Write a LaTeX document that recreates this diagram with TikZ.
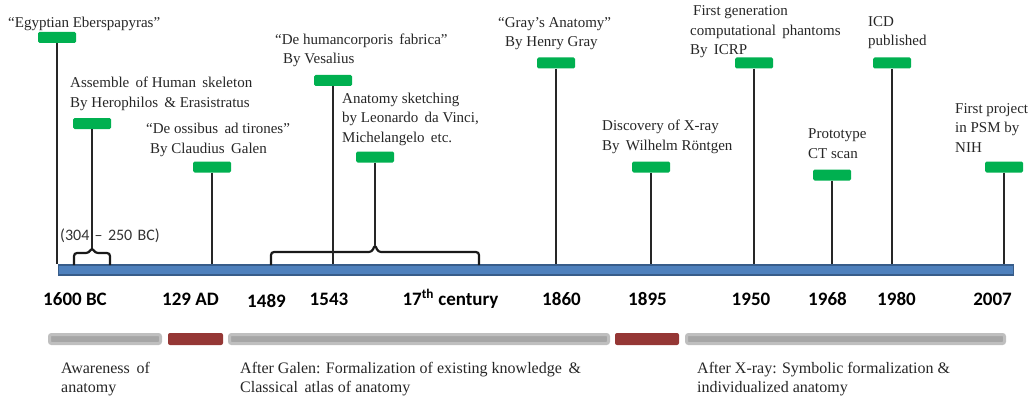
\documentclass[tikz,border=0pt]{standalone}
\usepackage{fontspec}
\setmainfont{Liberation Serif}
\newfontfamily\calib{Carlito}

\definecolor{tagreen}{HTML}{00B050}
\definecolor{barblue}{HTML}{4F81BD}
\definecolor{barrim}{HTML}{385D8A}
\definecolor{eragray}{HTML}{BFBFBF}
\definecolor{eracore}{HTML}{A6A6A6}
\definecolor{shiftred}{HTML}{953735}

\begin{document}
\begin{tikzpicture}[
      x=1pt,
      y=-1pt,
      every node/.style={inner sep=0pt},
      tag/.style={fill=tagreen, rounded corners=1.5pt, minimum width=38pt, minimum height=11pt},
      stem/.style={line width=1.6pt, black!85},
      brace/.style={line width=2.2pt, rounded corners=3pt, black!90},
      evt/.style={anchor=base west, align=left, font=\fontsize{15}{19.5}\selectfont, text=black!85},
      yr/.style={anchor=base, font=\calib\bfseries\fontsize{19}{22}\selectfont},
      era/.style={anchor=base west, align=left, font=\fontsize{16}{19}\selectfont, text=black!85},
      eraband/.style={fill=eracore, draw=eragray, line width=3pt, rounded corners=2pt},
      shiftband/.style={fill=shiftred, rounded corners=2pt}
    ]
    \useasboundingbox (0,0) rectangle (1031,396);

    % --- 1. axis ---
    \def\yBar{264}
    \node[fill=barblue, draw=barrim, line width=1.5pt, minimum width=955pt, minimum height=10pt,
          anchor=north west] (axis) at (57.5,\yBar) {};

    % --- 2. braces over the axis ---
    \draw[brace] (74,265) -- (74,253) -- (89,253) -- (92,247.5) -- (95,253) -- (110,253) -- (110,265);
    \coordinate (tipA) at (92,247.5);
    \draw[brace] (271,265) -- (271,252) -- (372,252) -- (375,244.5) -- (378,252) -- (479,252) -- (479,265);
    \coordinate (tipB) at (375,244.5);
    \node[anchor=base west, font=\calib\fontsize{16}{18}\selectfont, text=black!80] (span) at (60,240) {(304\,\,–\,\,250\,\,BC)};

    % --- 3. events (tag + text) ---
    % texts are placed at the baseline of their last line
    \node[tag] (ebers)  at (57,37.5)  {};
    \node[tag] (heroph) at (92,123.5) {};
    \node[tag] (galen)  at (212,167)  {};
    \node[tag] (vesal)  at (333,80.5) {};
    \node[tag] (vinci)  at (375,157)  {};
    \node[tag] (gray)   at (556,63)   {};
    \node[tag] (xray)   at (651,167)  {};
    \node[tag] (icrp)   at (754,63)   {};
    \node[tag] (ctscan) at (832,175)  {};
    \node[tag] (icd)    at (892,63)   {};
    \node[tag] (psm)    at (1004,167) {};

    \node[evt] (tEbers)  at (8,28)    {“Egyptian Eberspapyras”};
    \node[evt] (tHeroph) at (70,107)  {Assemble\, of Human\, skeleton\\By Herophilos\, \& Erasistratus};
    \node[evt] (tGalen)  at (146,153) {“De ossibus\, ad tirones”\\\hspace{4pt}By Claudius\, Galen};
    \node[evt] (tVesal)  at (275,64)  {“De humancorporis\, fabrica”\\\hspace{8pt}By Vesalius};
    \node[evt] (tVinci)  at (342,142) {Anatomy sketching\\by Leonardo\, da Vinci,\\Michelangelo\, etc.};
    \node[evt] (tGray)   at (498,47)  {“Gray’s Anatomy”\\\hspace{7pt}By Henry Gray};
    \node[evt] (tXray)   at (602,150) {Discovery of X-ray\\By\, Wilhelm Röntgen};
    \node[evt] (tIcrp)   at (690,55)  {\hspace{3pt}First generation\\computational\, phantoms\\By\, ICRP};
    \node[evt] (tCt)     at (808,158) {Prototype\\CT scan};
    \node[evt] (tIcd)    at (868,46)  {ICD\\published};
    \node[evt] (tPsm)    at (955,152) {First project\\in PSM by\\NIH};

    % --- 4. stems ---
    \foreach \ev in {ebers, galen, vesal, gray, xray, icrp, ctscan, icd, psm}
      \draw[stem] (\ev.south) -- (\ev.south |- axis.north);
    \draw[stem] (heroph.south) -- (tipA);
    \draw[stem] (vinci.south) -- (tipB);

    % --- 5. year labels ---
    \node[yr] (y1600) at (75,305)    {1600 BC};
    \node[yr] (y129)  at (190.5,305) {129 AD};
    \node[yr] (y1489) at (266.5,307) {1489};
    \node[yr] (y1543) at (329,305)   {1543};
    \node[yr] (y17)   at (450.5,305) {17\textsuperscript{th} century};
    \node[yr] (y1860) at (561.5,305) {1860};
    \node[yr] (y1895) at (647.5,305) {1895};
    \node[yr] (y1950) at (751,305)   {1950};
    \node[yr] (y1968) at (827.5,305) {1968};
    \node[yr] (y1980) at (896.5,305) {1980};
    \node[yr] (y2007) at (992.5,305) {2007};

    % --- 6. eras ---
    \draw[eraband] (49.5,334.5) rectangle (160.5,343.5);
    \fill[shiftband] (168,333) rectangle (223,345);
    \draw[eraband] (229.5,334.5) rectangle (608.5,343.5);
    \fill[shiftband] (615,333) rectangle (679,345);
    \draw[eraband] (686.5,334.5) rectangle (1004.5,343.5);

    \node[era] (eAware)  at (61,392)  {Awareness\, of\\anatomy};
    \node[era] (eGalen)  at (240,392) {After Galen: Formalization of existing knowledge\, \&\\Classical\, atlas of anatomy};
    \node[era] (eXray)   at (697,392) {After X-ray: Symbolic formalization \&\\individualized anatomy};

  \end{tikzpicture}
\end{document}
